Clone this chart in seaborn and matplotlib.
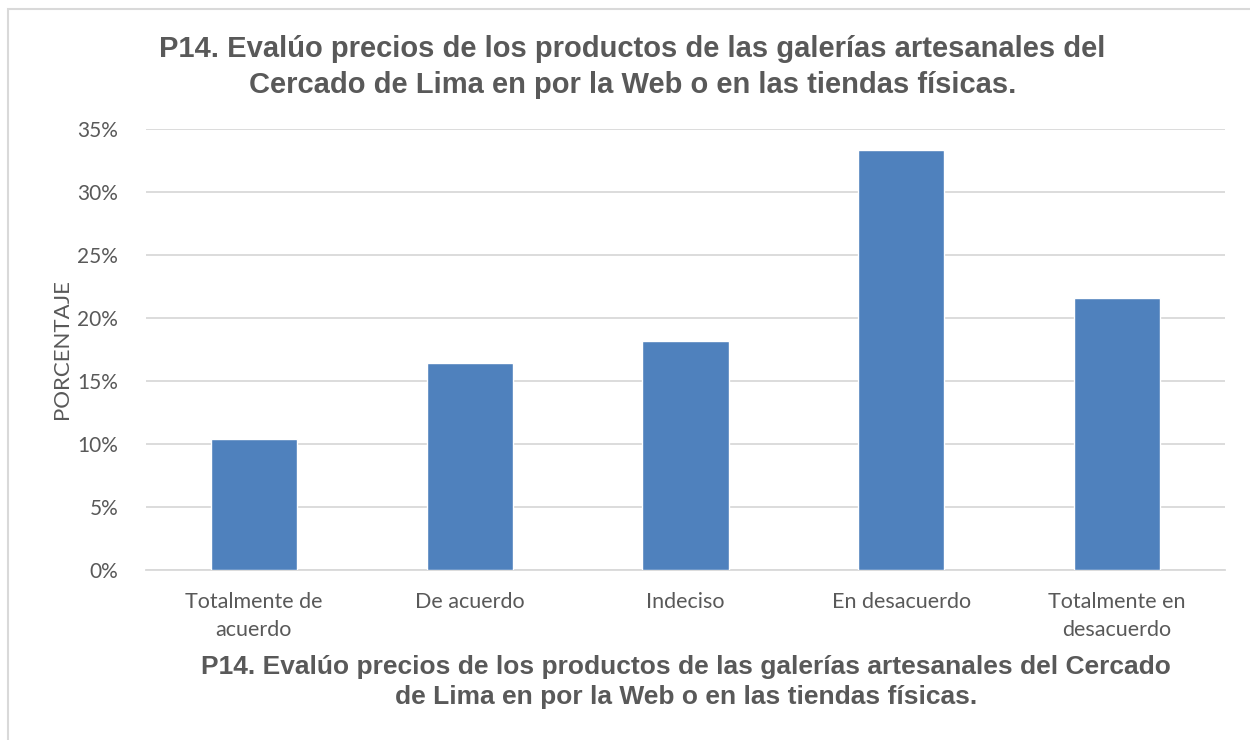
import matplotlib
matplotlib.use("Agg")
import matplotlib.pyplot as plt
import seaborn as sns
import pandas as pd
from matplotlib.ticker import FuncFormatter, MultipleLocator
from matplotlib.patches import Rectangle

categorias = ["Totalmente de\nacuerdo", "De acuerdo", "Indeciso",
              "En desacuerdo", "Totalmente en\ndesacuerdo"]
porcentajes = [10.4, 16.4, 18.2, 33.3, 21.6]
titulo = ("P14. Evalúo precios de los productos de las galerías artesanales del\n"
          "Cercado de Lima en por la Web o en las tiendas físicas.")
titulo_eje_x = ("P14. Evalúo precios de los productos de las galerías artesanales del Cercado\n"
                "de Lima en por la Web o en las tiendas físicas.")
etiqueta_y = "PORCENTAJE"

sns.set_theme(style="white")
plt.rcParams["font.family"] = ["Lato", "DejaVu Sans"]

df = pd.DataFrame({"categoria": categorias, "valor": porcentajes})

fig = plt.figure(figsize=(12.5, 7.4), dpi=100)
ax = fig.add_axes([146 / 1250, 1 - 570 / 740, (1225 - 146) / 1250, (570 - 129) / 740])

sns.barplot(data=df, x="categoria", y="valor", color="#4F81BD", width=0.4,
            saturation=1, ax=ax, zorder=3)

ax.set_ylim(0, 35)
ax.yaxis.set_major_locator(MultipleLocator(5))
ax.yaxis.set_major_formatter(FuncFormatter(lambda v, p: f"{v:.0f}%"))
ax.grid(axis="y", color="#D9D9D9", linewidth=1.3, zorder=0)
ax.set_axisbelow(True)
for s in ["top", "right", "left"]:
    ax.spines[s].set_visible(False)
ax.spines["bottom"].set_color("#D9D9D9")
ax.spines["bottom"].set_linewidth(1.3)
ax.tick_params(axis="y", length=0, labelsize=15, colors="#595959", pad=20)
ax.tick_params(axis="x", length=0, labelsize=15.5, colors="#595959", pad=16)
for t in ax.get_xticklabels():
    t.set_linespacing(1.5)

ax.set_xlabel("")
ax.set_ylabel(etiqueta_y, fontsize=16, color="#595959", labelpad=4)

fig.text(0.506, 1 - 67 / 740, titulo, ha="center", va="center", fontsize=21,
         fontweight="bold", color="#595959", family="Liberation Sans", linespacing=1.35)
fig.text(686 / 1250, 1 - 682 / 740, titulo_eje_x, ha="center", va="center",
         fontsize=19, fontweight="bold", color="#595959", family="Liberation Sans",
         linespacing=1.35)

# marco del área del gráfico
fig.patches.append(Rectangle((8 / 1250, -0.05), 1.2, 1 - 9 / 740 + 0.05,
                             transform=fig.transFigure, fill=False,
                             edgecolor="#D9D9D9", linewidth=1.5))

fig.savefig("out.png", dpi=100, facecolor="white")
